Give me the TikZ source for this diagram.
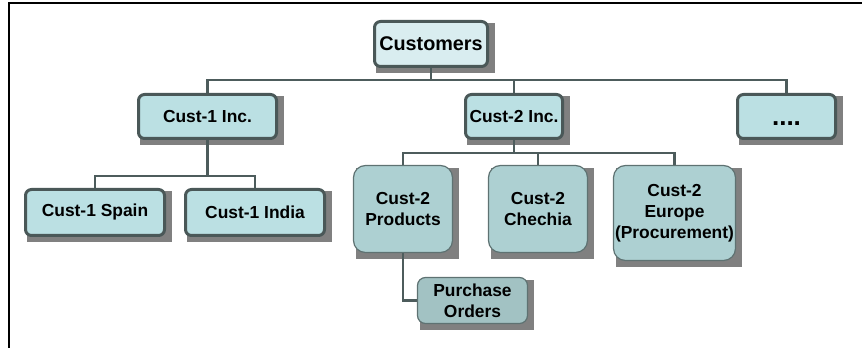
\documentclass[tikz,border=0pt]{standalone}
\usepackage{fontspec}
\setmainfont{Liberation Sans}
\usetikzlibrary{calc,backgrounds}
\definecolor{linec}{HTML}{4D5C5C}
\definecolor{bordc}{HTML}{4A5858}
\definecolor{thinb}{HTML}{5E7272}
\definecolor{fillA}{HTML}{D9EDF0}
\definecolor{fillB}{HTML}{BBE0E3}
\definecolor{fillC}{HTML}{ADD0D2}
\definecolor{fillD}{HTML}{A2C2C3}
\definecolor{shadc}{HTML}{808080}
\tikzset{
  conn/.style={draw=linec, line width=2.2pt},
  topbox/.style={draw=bordc, line width=3pt, rounded corners=6pt, fill=fillA, inner sep=0pt,
     font=\fontsize{19.8}{22}\selectfont\bfseries},
  lvbox/.style={draw=bordc, line width=3pt, rounded corners=6pt, fill=fillB, inner sep=0pt,
     font=\fontsize{17.4}{21}\selectfont\bfseries, align=center},
  subbox/.style={draw=thinb, line width=1.2pt, rounded corners=12pt, fill=fillC, inner sep=0pt,
     font=\fontsize{17.4}{21}\selectfont\bfseries, align=center},
  pobox/.style={draw=thinb, line width=1.2pt, rounded corners=8pt, fill=fillD, inner sep=0pt,
     font=\fontsize{17.4}{21}\selectfont\bfseries, align=center},
}
\begin{document}
\begin{tikzpicture}[x=1pt,y=1pt]
\useasboundingbox (0,0) rectangle (862,348);
% frame
\draw[black, line width=2.5pt] (9,0) -- (9,345) -- (862,345);

% nodes (centre x, 348 - centre y)
\node[topbox, minimum width=113pt, minimum height=45pt] (cust) at (431,304) {Customers};
\node[lvbox, minimum width=138pt, minimum height=44pt] (c1) at (207.5,231.5) {Cust-1 Inc.};
\node[lvbox, minimum width=97pt, minimum height=44pt] (c2) at (514,231.5) {Cust-2 Inc.};
\node[lvbox, minimum width=98pt, minimum height=44pt, font=\fontsize{26}{28}\selectfont\bfseries] (dots) at (786.5,231.5) {\vphantom{C}....};
\node[lvbox, minimum width=139pt, minimum height=46pt] (spain) at (95,135.5) {Cust-1 Spain};
\node[lvbox, minimum width=139pt, minimum height=46pt] (india) at (255,135.5) {Cust-1 India};
\node[subbox, minimum width=99pt, minimum height=87pt] (prod) at (403,139) {Cust-2\\Products};
\node[subbox, minimum width=99pt, minimum height=87pt] (chec) at (538,139) {Cust-2\\Chechia};
\node[subbox, minimum width=122pt, minimum height=95pt] (eur) at (674.5,135) {Cust-2\\Europe\\(Procurement)};
\node[pobox, minimum width=110pt, minimum height=46pt] (po) at (472.5,47.5) {Purchase\\Orders};

% bus coordinates
\coordinate (b1) at (431,268);
\coordinate (b2) at (207,172);
\coordinate (b3) at (514,195);

\begin{scope}[on background layer]
  \foreach \n in {cust,c1,c2,dots,spain,india,prod,chec,eur,po}{
    \fill[shadc] ($(\n.south west)+(3,-5.5)$) rectangle ($(\n.north east)+(5.5,-3)$);
  }
  % connectors
  \draw[conn] (cust.south) -- (cust.south |- b1);
  \draw[conn] (c1.north) -- (c1.north |- b1) -- (dots.north |- b1) -- (dots.north);
  \draw[conn] (c2.north) -- (c2.north |- b1);
  \draw[conn] (c1.south) -- (c1.south |- b2);
  \draw[conn] (spain.north) -- (spain.north |- b2) -- (india.north |- b2) -- (india.north);
  \draw[conn] (c2.south) -- (c2.south |- b3);
  \draw[conn] (prod.north) -- (prod.north |- b3) -- (eur.north |- b3) -- (eur.north);
  \draw[conn] (chec.north) -- (chec.north |- b3);
  \draw[conn] (prod.south) |- (po.west);
\end{scope}
\end{tikzpicture}
\end{document}
